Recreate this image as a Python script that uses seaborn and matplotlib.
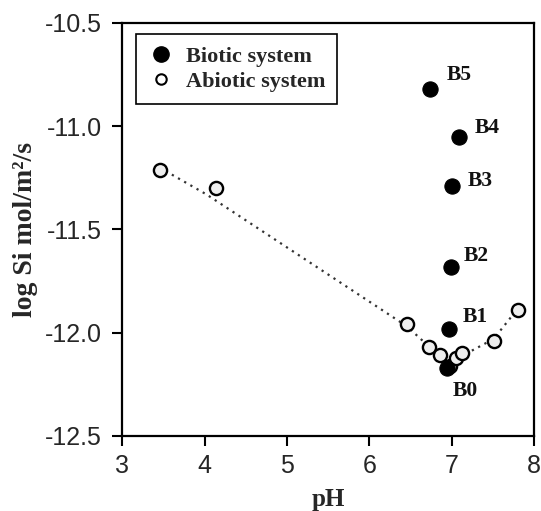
import numpy as np
import pandas as pd
import matplotlib
matplotlib.use("Agg")
import matplotlib.pyplot as plt
import seaborn as sns
from matplotlib.lines import Line2D

# ---- data ----
biotic_ph = [6.94, 6.97, 6.99, 7.01, 7.09, 6.74]
biotic_log_si = [-12.17, -11.98, -11.68, -11.29, -11.05, -10.82]
biotic_labels = ["B0", "B1", "B2", "B3", "B4", "B5"]

abiotic_ph = [3.45, 4.14, 6.46, 6.73, 6.86, 6.98, 7.05, 7.12, 7.51, 7.81]
abiotic_log_si = [-11.21, -11.30, -11.96, -12.07, -12.11, -12.16, -12.12, -12.10, -12.04, -11.89]

trend_ph = [3.45, 4.02, 6.46, 6.95, 7.51, 7.81]
trend_log_si = [-11.20, -11.33, -11.97, -12.15, -12.03, -11.88]

x_ticks = [3, 4, 5, 6, 7, 8]
y_ticks = [-12.5, -12.0, -11.5, -11.0, -10.5]

# label offsets in points (style)
label_offsets = [(4.5, -17), (9.5, 8), (9, 8), (11, 4), (11, 6), (11.5, 10)]

sns.set_style("ticks")
plt.rcParams["font.family"] = ["Liberation Sans", "DejaVu Sans"]

fig = plt.figure(figsize=(5.41, 5.11), dpi=100)
ax = fig.add_axes([0.2264, 0.1468, 0.987 - 0.2264, 0.955 - 0.1468])

df_b = pd.DataFrame({"pH": biotic_ph, "logSi": biotic_log_si})
df_a = pd.DataFrame({"pH": abiotic_ph, "logSi": abiotic_log_si})
df_t = pd.DataFrame({"pH": trend_ph, "logSi": trend_log_si})

sns.lineplot(data=df_t, x="pH", y="logSi", ax=ax, color="#333333", lw=1.6,
             linestyle=(0, (1, 2.2)), sort=False, zorder=1)
sns.scatterplot(data=df_a, x="pH", y="logSi", ax=ax, s=90, marker="o",
                facecolor="#eeeeee", edgecolor="black", linewidth=1.7, zorder=2)
sns.scatterplot(data=df_b, x="pH", y="logSi", ax=ax, s=120, marker="o",
                color="black", edgecolor="black", linewidth=0.8, zorder=3)

for xv, yv, lab, off in zip(biotic_ph, biotic_log_si, biotic_labels, label_offsets):
    ax.annotate(lab, (xv, yv), xytext=off, textcoords="offset points",
                ha="left", va="center", fontsize=15.5, fontweight="bold",
                family="Liberation Serif", color="#111111")

ax.set_xlim(3, 8)
ax.set_ylim(-12.5, -10.5)
ax.set_xticks(x_ticks)
ax.set_yticks(y_ticks)
ax.set_xticklabels([str(v) for v in x_ticks])
ax.set_yticklabels([f"{v:.1f}" for v in y_ticks])
ax.tick_params(axis="both", direction="out", length=7, width=1.5,
               labelsize=18, color="black", pad=6)
ax.tick_params(axis="y", pad=8)

for sp in ax.spines.values():
    sp.set_visible(True)
    sp.set_linewidth(1.6)
    sp.set_color("black")

ax.set_xlabel("pH", fontsize=18, fontweight="bold", family="Liberation Serif", labelpad=7)
ax.set_ylabel("log Si mol/m\u00b2/s", fontsize=20, fontweight="bold",
              family="Liberation Serif", labelpad=5)

handles = [
    Line2D([0], [0], marker="o", color="none", markerfacecolor="black",
           markeredgecolor="black", markersize=11, label="Biotic system"),
    Line2D([0], [0], marker="o", color="none", markerfacecolor="white",
           markeredgecolor="black", markeredgewidth=1.5, markersize=7.5, label="Abiotic system"),
]
leg = ax.legend(handles=handles, loc="upper left", bbox_to_anchor=(0.005, 1.0),
                frameon=True, fancybox=False, edgecolor="black", framealpha=1,
                prop={"family": "Liberation Serif", "weight": "bold", "size": 16},
                handletextpad=0.5, borderpad=0.55, labelspacing=0.2, handlelength=1.2)
leg.get_frame().set_linewidth(1.2)

fig.savefig("out.png", dpi=100)
